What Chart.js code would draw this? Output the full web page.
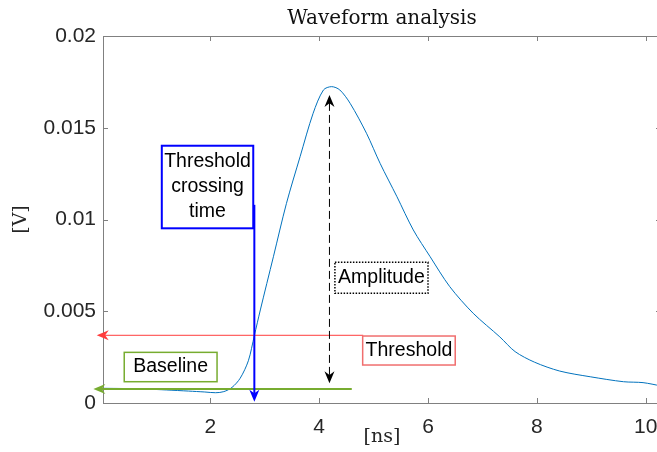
<!DOCTYPE html>
<html>
<head>
<meta charset="utf-8">
<script src="https://cdn.jsdelivr.net/npm/chart.js@4.4.1/dist/chart.umd.min.js"></script>
<style>
  html, body { margin: 0; padding: 0; background: #fff; width: 657px; height: 452px; overflow: hidden; }
  #wrap { width: 672px; height: 452px; }
</style>
</head>
<body>
<div id="wrap"><canvas id="myChart" width="672" height="452"></canvas></div>
<script>
// waveform (time in ns, amplitude in V)
const timeNs = [0.03, 0.4, 0.8, 1.2, 1.6, 1.9, 2.1, 2.25, 2.4, 2.55, 2.7, 2.81, 2.92, 3.16, 3.40, 3.65, 3.89, 4.08,
  4.23, 4.38, 4.57, 4.87, 5.12, 5.43, 5.73, 6.04, 6.40, 6.83, 7.32, 7.6, 7.96, 8.42, 8.98, 9.59, 9.95, 10.28];
const voltage = [0.00080, 0.00079, 0.00076, 0.00071, 0.00065, 0.00060, 0.00056, 0.00062, 0.00085, 0.00135, 0.0023,
  0.00367, 0.00507, 0.00797, 0.01088, 0.01342, 0.01579, 0.01706, 0.01724, 0.01706, 0.01633, 0.0147, 0.01306,
  0.01124, 0.00943, 0.00797, 0.00634, 0.00489, 0.0036, 0.0028, 0.00222, 0.00174, 0.00143, 0.00116, 0.00111, 0.00093];

const xTickValues = [2, 4, 6, 8, 10];
const xTickLabels = ['2', '4', '6', '8', '10'];
const yTickValues = [0, 0.005, 0.01, 0.015, 0.02];
const yTickLabels = ['0', '0.005', '0.01', '0.015', '0.02'];

// analysis results marked on the figure
const thresholdLevel = 0.00369;
const baselineLevel = 0.00076;
const crossingTime = 2.81;
const peakTime = 4.19;
const amplitudeTop = 0.01679;
const amplitudeBottom = 0.00107;

const SANS = '"Liberation Sans", Arial, Helvetica, sans-serif';
const SERIF = '"DejaVu Serif", "Liberation Serif", serif';
const AXIS_GREY = 'rgb(128,128,128)';
const TEXT_COL = '#262626';

// annotation layout (data units)
const arrows = [
  { from: [4.81, thresholdLevel], to: [-0.085, thresholdLevel], color: 'rgb(255,60,60)', width: 1 },
  { from: [4.6, baselineLevel], to: [-0.147, baselineLevel], color: 'rgb(119,172,48)', width: 2 },
  { from: [crossingTime, 0.0108], to: [crossingTime, 0.00007], color: 'rgb(0,0,255)', width: 2 }
];
const boxes = [
  { lines: ['Threshold', 'crossing', 'time'], x0: 1.11, x1: 2.79, y0: 0.01402, y1: 0.00952, color: 'rgb(0,0,255)', width: 2, dash: [] },
  { lines: ['Baseline'], x0: 0.42, x1: 2.125, y0: 0.00276, y1: 0.00116, color: 'rgb(119,172,48)', width: 1.5, dash: [] },
  { lines: ['Amplitude'], x0: 4.29, x1: 6.0, y0: 0.00767, y1: 0.00598, color: '#000', width: 1.5, dash: [1.5, 1.5] },
  { lines: ['Threshold'], x0: 4.8, x1: 6.5, y0: 0.00365, y1: 0.00207, color: 'rgb(240,110,110)', width: 1.5, dash: [] }
];

function arrowHead(ctx, tx, ty, dx, dy, color) {
  const L = 12, W = 5;
  const len = Math.hypot(dx, dy);
  const ux = dx / len, uy = dy / len;
  const nx = -uy, ny = ux;
  ctx.save();
  ctx.fillStyle = color;
  ctx.beginPath();
  ctx.moveTo(tx, ty);
  ctx.lineTo(tx - L * ux + W * nx, ty - L * uy + W * ny);
  ctx.lineTo(tx - 0.7 * L * ux, ty - 0.7 * L * uy);
  ctx.lineTo(tx - L * ux - W * nx, ty - L * uy - W * ny);
  ctx.closePath();
  ctx.fill();
  ctx.restore();
}

const annotate = {
  id: 'annotate',
  afterDraw(chart) {
    const { ctx, chartArea: a, scales: { x, y } } = chart;
    ctx.save();

    // axes box + inward ticks
    ctx.strokeStyle = AXIS_GREY;
    ctx.lineWidth = 1;
    ctx.strokeRect(a.left + 0.5, a.top + 0.5, a.right - a.left, a.bottom - a.top);
    ctx.beginPath();
    xTickValues.forEach(v => {
      const px = Math.round(x.getPixelForValue(v)) + 0.5;
      ctx.moveTo(px, a.bottom); ctx.lineTo(px, a.bottom - 5);
      ctx.moveTo(px, a.top); ctx.lineTo(px, a.top + 5);
    });
    yTickValues.forEach(v => {
      const py = Math.round(y.getPixelForValue(v)) + 0.5;
      ctx.moveTo(a.left, py); ctx.lineTo(a.left + 5, py);
      ctx.moveTo(a.right, py); ctx.lineTo(a.right - 5, py);
    });
    ctx.stroke();

    // arrows
    arrows.forEach(ar => {
      const x1 = x.getPixelForValue(ar.from[0]), y1 = y.getPixelForValue(ar.from[1]);
      const x2 = x.getPixelForValue(ar.to[0]), y2 = y.getPixelForValue(ar.to[1]);
      ctx.strokeStyle = ar.color;
      ctx.lineWidth = ar.width;
      ctx.beginPath();
      ctx.moveTo(x1, y1);
      const len = Math.hypot(x2 - x1, y2 - y1);
      ctx.lineTo(x2 - (x2 - x1) / len * 8, y2 - (y2 - y1) / len * 8);
      ctx.stroke();
      arrowHead(ctx, x2, y2, x2 - x1, y2 - y1, ar.color);
    });

    // amplitude double arrow (dashed)
    const ax = x.getPixelForValue(peakTime);
    const at = y.getPixelForValue(amplitudeTop), ab = y.getPixelForValue(amplitudeBottom);
    ctx.strokeStyle = '#000';
    ctx.lineWidth = 1;
    ctx.setLineDash([8, 4]);
    ctx.beginPath();
    ctx.moveTo(ax, at + 8); ctx.lineTo(ax, ab - 8);
    ctx.stroke();
    ctx.setLineDash([]);
    arrowHead(ctx, ax, at, 0, -1, '#000');
    arrowHead(ctx, ax, ab, 0, 1, '#000');

    // text boxes
    boxes.forEach(b => {
      const l = x.getPixelForValue(b.x0), r = x.getPixelForValue(b.x1);
      const t = y.getPixelForValue(b.y0), bt = y.getPixelForValue(b.y1);
      ctx.fillStyle = '#fff';
      ctx.fillRect(l, t, r - l, bt - t);
      ctx.strokeStyle = b.color;
      ctx.lineWidth = b.width;
      ctx.setLineDash(b.dash);
      ctx.strokeRect(l, t, r - l, bt - t);
      ctx.setLineDash([]);
      ctx.fillStyle = '#000';
      ctx.font = '19.5px ' + SANS;
      ctx.textAlign = 'center';
      ctx.textBaseline = 'middle';
      const cx = (l + r) / 2, cy = (t + bt) / 2;
      const n = b.lines.length;
      b.lines.forEach((s, i) => ctx.fillText(s, cx, cy + (i - (n - 1) / 2) * 25));
    });

    // title and axis labels
    const mid = (a.left + a.right) / 2;
    ctx.fillStyle = '#111';
    ctx.textAlign = 'center';
    ctx.textBaseline = 'alphabetic';
    ctx.font = '20px ' + SERIF;
    ctx.fillText('Waveform analysis', mid, 24);
    ctx.fillStyle = TEXT_COL;
    ctx.font = '19px ' + SERIF;
    ctx.textBaseline = 'middle';
    ctx.fillText('[ns]', mid, 437);
    ctx.translate(21, (a.top + a.bottom) / 2);
    ctx.rotate(-Math.PI / 2);
    ctx.fillText('[V]', 0, 0);
    ctx.restore();
  }
};

const chartData = {
  datasets: [{
    data: timeNs.map((t, i) => ({ x: t, y: voltage[i] })),
    borderColor: 'rgb(0,114,189)',
    borderWidth: 1,
    pointRadius: 0,
    tension: 0.3,
    fill: false
  }]
};

const config = {
  type: 'line',
  data: chartData,
  options: {
    responsive: false,
    animation: false,
    devicePixelRatio: 1,
    layout: { padding: { top: 36, right: 11, left: 0, bottom: 0 } },
    plugins: { legend: { display: false }, title: { display: false }, tooltip: { enabled: false } },
    scales: {
      x: {
        type: 'linear',
        min: 0.03,
        max: 10.28,
        grid: { display: false, drawTicks: false },
        border: { display: false },
        afterBuildTicks: s => { s.ticks = xTickValues.map(v => ({ value: v })); },
        afterFit: s => { s.height = 49; },
        ticks: {
          padding: 12,
          color: TEXT_COL,
          font: { family: SANS, size: 21 },
          maxRotation: 0,
          callback: v => xTickLabels[xTickValues.indexOf(v)]
        }
      },
      y: {
        type: 'linear',
        min: 0,
        max: 0.02,
        grid: { display: false, drawTicks: false },
        border: { display: false },
        afterBuildTicks: s => { s.ticks = yTickValues.map(v => ({ value: v })); },
        afterFit: s => { s.width = 103; },
        ticks: {
          padding: 7,
          color: TEXT_COL,
          font: { family: SANS, size: 21 },
          callback: v => yTickLabels[yTickValues.indexOf(v)]
        }
      }
    }
  },
  plugins: [annotate]
};

const myChart = new Chart(document.getElementById('myChart'), config);
</script>
</body>
</html>
